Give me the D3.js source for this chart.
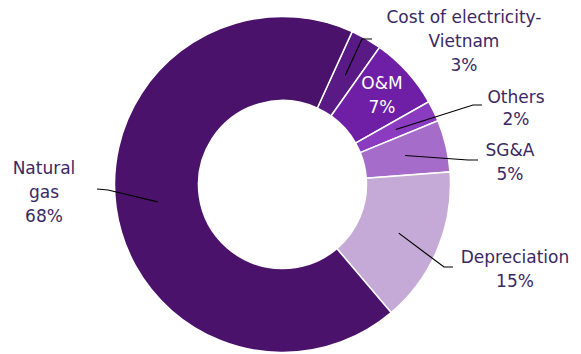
<!DOCTYPE html>
<html>
<head>
<meta charset="utf-8">
<script src="https://cdn.jsdelivr.net/npm/d3@7"></script>
<style>
  html, body { margin: 0; padding: 0; background: #fff; }
  svg text { font-family: "DejaVu Sans", Verdana, sans-serif; font-size: 17px; }
</style>
</head>
<body>
<div id="chart-container"></div>
<script>
/**************************************************
 * Cost breakdown data (clockwise from first slice)
 **************************************************/
const categories = ["Cost of electricity-\nVietnam", "O&M", "Others", "SG&A", "Depreciation", "Natural\ngas"];
const shares = [3, 7, 2, 5, 15, 68];
const sliceColors = ["#5a1a86", "#6f1fa6", "#8a3bbf", "#a66cc9", "#c5a9d7", "#4a126a"];

/**************************************************
 * Layout
 **************************************************/
const width = 581, height = 354;
const cx = 282.5, cy = 184.5;
const outerR = 168, innerR = 84;
const startDeg = 24.5;
const textColor = "#3b2862";
const lineH = 24;

// label anchor (center of first line) + elbow end of leader, per slice
const labelLayout = [
  { x: 464, y: 17, elbow: [362, 39], end: [372, 39], fill: textColor },
  { x: 382, y: 83, elbow: null, end: null, fill: "#ffffff" },
  { x: 516, y: 97, elbow: [473, 105], end: [482, 105], fill: textColor, lh: 22 },
  { x: 510, y: 150, elbow: [468, 160], end: [478, 160], fill: textColor },
  { x: 515, y: 257, elbow: [444, 267], end: [453, 267], fill: textColor },
  { x: 44, y: 168, elbow: [108, 190], end: [97, 189], fill: textColor }
];

const rows = categories.map((c, i) => ({ label: c, value: shares[i], color: sliceColors[i], layout: labelLayout[i] }));

function renderDonut() {
  const svg = d3.select("#chart-container")
    .append("svg")
    .attr("width", width)
    .attr("height", height);

  const pie = d3.pie()
    .sort(null)
    .value(d => d.value)
    .startAngle(startDeg * Math.PI / 180)
    .endAngle((startDeg + 360) * Math.PI / 180);

  const arc = d3.arc().innerRadius(innerR).outerRadius(outerR);

  const g = svg.append("g").attr("transform", `translate(${cx},${cy})`);

  const arcs = pie(rows);

  g.selectAll("path.slice")
    .data(arcs)
    .enter()
    .append("path")
    .attr("class", "slice")
    .attr("d", arc)
    .attr("fill", d => d.data.color)
    .attr("stroke", "#ffffff")
    .attr("stroke-width", 1.5);

  // leader lines: from ring centroid to elbow, then short horizontal
  arcs.forEach(d => {
    const L = d.data.layout;
    if (!L.elbow) return;
    const c = arc.centroid(d);
    const pts = [[cx + c[0], cy + c[1]], L.elbow, L.end];
    svg.append("path")
      .attr("d", d3.line()(pts))
      .attr("fill", "none")
      .attr("stroke", "#000")
      .attr("stroke-width", 1.2);
  });

  // labels
  arcs.forEach(d => {
    const L = d.data.layout;
    const lines = d.data.label.split("\n").concat([d.data.value + "%"]);
    const lh = L.lh || lineH;
    const t = svg.append("text")
      .attr("text-anchor", "middle")
      .attr("fill", L.fill);
    lines.forEach((s, i) => {
      t.append("tspan")
        .attr("x", L.x)
        .attr("y", L.y + i * lh)
        .attr("dy", "0.35em")
        .text(s);
    });
  });
}

renderDonut();
</script>
</body>
</html>
